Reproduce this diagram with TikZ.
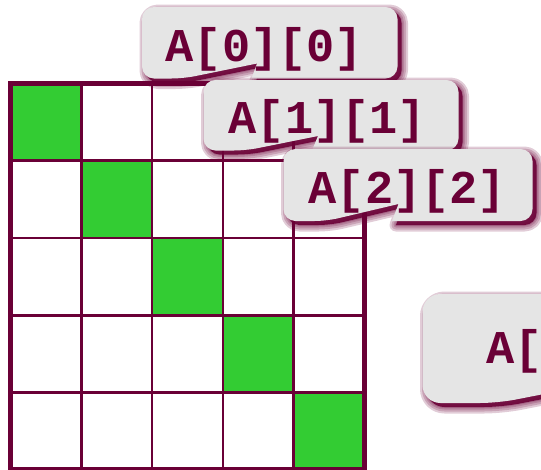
\documentclass[tikz,border=0pt]{standalone}
\usepackage{fontspec}
\newfontfamily\codefont{Liberation Mono}
\usepackage{xcolor}
\definecolor{wine}{HTML}{6A0036}
\definecolor{cellgreen}{HTML}{33CC33}
\definecolor{tipgrey}{HTML}{E5E5E5}
\tikzset{
  gridline/.style={draw=wine,line width=2.7pt},
  frame/.style={draw=wine,line width=5.3pt},
  hit/.style={fill=cellgreen},
  code/.style={font=\codefont\bfseries\fontsize{47}{47}\selectfont,text=wine,inner sep=0pt,anchor=base west},
  tipbox/.style={fill=tipgrey},
  tipshade/.style={draw=wine,line join=round,draw opacity=0.2,xshift=4pt,yshift=-4pt},
  tipcore/.style={fill=wine,fill opacity=0.9,xshift=4pt,yshift=-4pt},
}
% box with a notch cut into its lower edge
% #1 left, #2 top, #3 right, #4 bottom, #5/#6 notch ends, #7,#8 notch tip, #9 corner radius
\newcommand{\tipcallout}[9]{%
  \foreach \w in {13,9,5,2}
    \path[tipshade,line width=\w pt] (#6,#4) [rounded corners=#9] -- (#3,#4) -- (#3,#2) -- (#1,#2) -- (#1,#4) -- (#5,#4) [sharp corners] -- (#7,#8) -- cycle;
  \path[tipcore] (#6,#4) [rounded corners=#9] -- (#3,#4) -- (#3,#2) -- (#1,#2) -- (#1,#4) -- (#5,#4) [sharp corners] -- (#7,#8) -- cycle;
  \path[tipbox] (#6,#4) [rounded corners=#9] -- (#3,#4) -- (#3,#2) -- (#1,#2) -- (#1,#4) -- (#5,#4) [sharp corners] -- (#7,#8) -- cycle;
}

\begin{document}
\begin{tikzpicture}[x=1pt,y=-1pt]
\useasboundingbox (0,0) rectangle (541,469);
\clip (0,0) rectangle (541,469);

% the 5x5 array
\begin{scope}[shift={(10.3,83.3)},x=70.88pt,y=-77.35pt]
\foreach \i in {0,...,4}
  \fill[hit] (\i,\i) rectangle (\i+1,\i+1);
\foreach \i in {1,...,4} {
  \draw[gridline] (\i,0) -- (\i,5);
  \draw[gridline] (0,\i) -- (5,\i);
}
\draw[frame] (0,0) rectangle (5,5);
\end{scope}

% labels for the diagonal
\tipcallout{142}{7}{397.5}{78.5}{183.5}{251.5}{257}{63.5}{12pt}
\node[code] (a00) at (165.5,61.7) {A[0][0]};
\tipcallout{203.5}{80}{458.5}{150.5}{246}{312}{318}{136}{12pt}
\node[code] (a11) at (228.5,133.3) {A[1][1]};
\tipcallout{283.5}{149}{532.5}{221}{326.5}{392}{398.5}{204}{12pt}
\node[code] (a22) at (308.5,203.3) {A[2][2]};
\tipcallout{422.5}{294}{720}{403}{498}{566}{572}{388.5}{18pt}
\node[code] (a33) at (486.5,363.3) {A[};
\end{tikzpicture}
\end{document}
